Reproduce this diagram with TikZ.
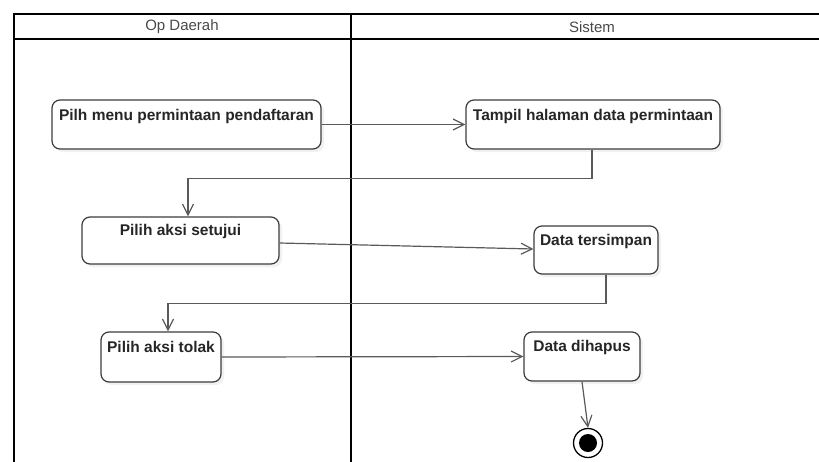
\documentclass[tikz,border=0pt]{standalone}
\usepackage{fontspec}
\setmainfont{Liberation Sans}
\usetikzlibrary{arrows.meta,shadows}
\definecolor{edgegray}{HTML}{5A5A5A}
\definecolor{boxgray}{HTML}{3C3C3C}
\definecolor{headgray}{HTML}{4A4A4A}
\tikzset{
  act/.style={draw=boxgray, line width=1.2pt, rounded corners=8pt, fill=white,
    inner sep=0pt, drop shadow={shadow xshift=3pt, shadow yshift=-3pt, fill=black!10}},
  acttext/.style={font=\bfseries\fontsize{15.5}{18}\selectfont, text=black!85, inner sep=0pt},
  flow/.style={draw=edgegray, line width=1.2pt, -{Straight Barb[length=11pt,width=11pt,line width=1.2pt]}},
  lane/.style={line width=2pt, draw=black},
  head/.style={font=\fontsize{15}{18}\selectfont, text=headgray, inner sep=0pt},
}
\begin{document}
\begin{tikzpicture}[x=1pt,y=-1pt]
\useasboundingbox (0,0) rectangle (819,461);
\clip (0,0) rectangle (819,461);
\fill[white] (0,0) rectangle (819,461);
% swimlane frame
\draw[lane] (14,14) -- (840,14);
\draw[lane] (14,39) -- (840,39);
\draw[lane] (14,13) -- (14,470);
\draw[lane] (351,13) -- (351,470);
\node[head] (h1) at (182,27) {Op Daerah};
\node[head] (h2) at (592,27) {Sistem};
% activities
\node[act, minimum width=269pt, minimum height=49pt] (n1) at (186.5,124.5) {};
\node[acttext] (t1) at ([yshift=-17pt]n1.north) {Pilh menu permintaan pendaftaran};
\node[act, minimum width=254pt, minimum height=49pt] (n2) at (593,124.5) {};
\node[acttext] (t2) at ([yshift=-17pt]n2.north) {Tampil halaman data permintaan};
\node[act, minimum width=197pt, minimum height=47pt] (n3) at (180.5,240.5) {};
\node[acttext] (t3) at ([yshift=-15.5pt]n3.north) {Pilih aksi setujui};
\node[act, minimum width=124pt, minimum height=48pt] (n4) at (596,250) {};
\node[acttext] (t4) at ([yshift=-16pt]n4.north) {Data tersimpan};
\node[act, minimum width=120pt, minimum height=50pt] (n5) at (161,357) {};
\node[acttext] (t5) at ([yshift=-16pt]n5.north) {Pilih aksi tolak};
\node[act, minimum width=116pt, minimum height=49pt] (n6) at (582,356.5) {};
\node[acttext] (t6) at ([yshift=-16pt]n6.north) {Data dihapus};
% final node
\node[circle, draw=black, line width=1.3pt, fill=white, minimum size=29pt, inner sep=0pt] (fin) at (588,443) {};
\node[circle, fill=black, minimum size=18pt, inner sep=0pt] (finin) at (fin.center) {};
% connectors
\draw[flow] (n1.east) -- (n2.west);
\draw[flow] ([xshift=-1pt]n2.south) -- ++(0,29) -| ([xshift=7.5pt]n3.north);
\draw[flow] ([yshift=-2.5pt]n3.east) -- ([yshift=1pt]n4.west);
\draw[flow] ([xshift=10pt]n4.south) -- ++(0,29) -| ([xshift=7pt]n5.north);
\draw[flow] (n5.east) -- (n6.west);
\draw[flow] (n6.south) -- (fin.north);
\end{tikzpicture}
\end{document}
